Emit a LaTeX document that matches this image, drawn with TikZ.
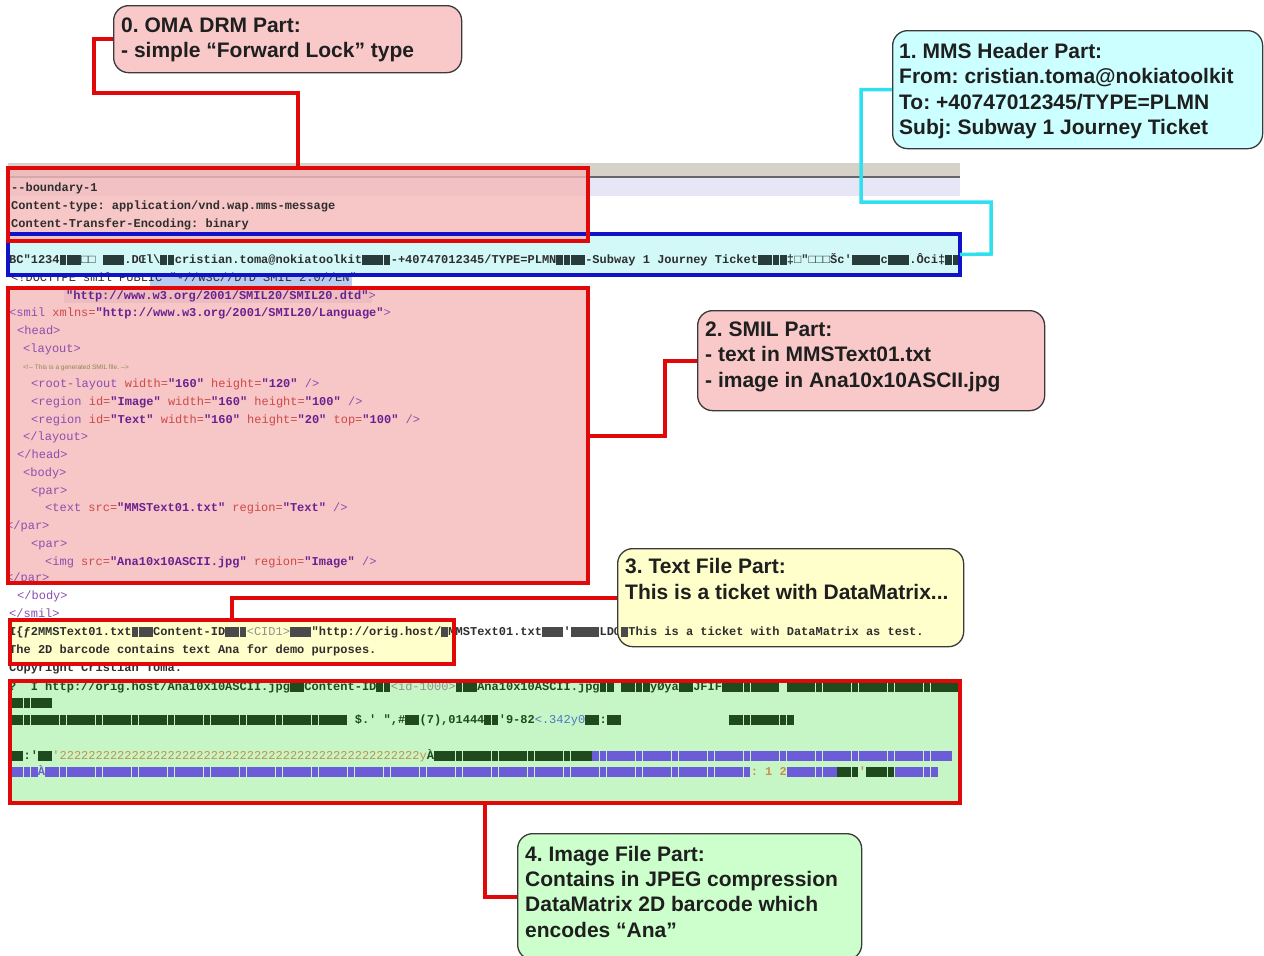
\documentclass[tikz,border=0pt]{standalone}
\usepackage{fontspec}
\setmainfont{Liberation Sans}
\setmonofont{Liberation Mono}
\frenchspacing
\definecolor{boxred}{HTML}{E00808}
\definecolor{boxblue}{HTML}{1212C8}
\definecolor{linecyan}{HTML}{30E0F0}
\definecolor{pinkf}{HTML}{F5B8B8}
\definecolor{cyanbox}{HTML}{D2F8F8}
\definecolor{yelbox}{HTML}{FFFFCC}
\definecolor{greenbox}{HTML}{C6F5C6}
\definecolor{cpink}{HTML}{F9C9C9}
\definecolor{ccyan}{HTML}{CCFFFF}
\definecolor{cyellow}{HTML}{FFFFCC}
\definecolor{cgreen}{HTML}{CCFFCC}
\definecolor{calloutdraw}{HTML}{3A3A3A}
\definecolor{codegray}{HTML}{2E2E2E}
\definecolor{tagc}{HTML}{8A4FB0}
\definecolor{attc}{HTML}{D04848}
\definecolor{valc}{HTML}{6A2090}
\definecolor{commc}{HTML}{8A8A50}
\definecolor{blkc}{HTML}{283C3C}
\definecolor{dblk}{HTML}{4A4A4A}
\definecolor{gblk}{HTML}{1E4A1E}
\definecolor{pblk}{HTML}{6C5CD8}
\definecolor{tanc}{HTML}{C8904A}
\definecolor{bluec}{HTML}{4A78C8}
\definecolor{lgray}{HTML}{909090}
\definecolor{hlblue}{HTML}{B8CCF0}
\definecolor{hlgray}{HTML}{C8CCE8}
\definecolor{barc}{HTML}{D6D2CA}
\definecolor{lavc}{HTML}{E6E6F6}
\newcommand\bkk[1][blkc]{\textcolor{#1}{\rule[-2pt]{6.8pt}{10pt}}\kern0.4pt}
\newcommand\bkn[2][blkc]{\foreach\ii in {1,...,#2}{\bkk[#1]}}
\newcommand\xtag[1]{{\mdseries\color{tagc}#1}}
\newcommand\xatt[1]{{\mdseries\color{attc}#1}}
\newcommand\xval[1]{{\bfseries\color{valc}#1}}
\begin{document}
\begin{tikzpicture}[x=1pt,y=-1pt,
  partfill/.style={anchor=north west, inner sep=0pt, outer sep=0pt},
  code/.style={anchor=base west, inner sep=0pt, font=\ttfamily\bfseries\fontsize{12}{12}\selectfont, text=codegray},
  callout/.style={draw=calloutdraw, line width=1.3pt, rounded corners=15pt, anchor=north west, inner sep=0pt},
  ctext/.style={anchor=north west, align=left, inner sep=0pt, font=\bfseries\fontsize{21}{25.3}\selectfont, text=black!88},
  redconn/.style={draw=boxred, line width=4pt},
  cyanconn/.style={draw=linecyan, line width=3.5pt},
  redframe/.style={draw=boxred, line width=4pt},
  blueframe/.style={draw=boxblue, line width=4pt}]
\useasboundingbox (0,0) rectangle (1264,956);
\fill[white] (0,0) rectangle (1264,956);
% screenshot bands
\fill[barc] (8,163) rectangle (960,176);
\draw[black!60, line width=1.2pt] (8,177) -- (960,177);
\fill[lavc] (8,178) rectangle (960,196);
\fill[hlblue] (150,273) rectangle (352,286);
\fill[hlgray] (64,290) rectangle (372,303);
% part boxes (fills)
\node[partfill, fill=cyanbox, minimum width=952pt, minimum height=41pt] (b1) at (8,234) {};
\node[partfill, fill=pinkf, fill opacity=0.8, minimum width=580pt, minimum height=73pt] (b0) at (8,168) {};
\node[partfill, fill=pinkf, fill opacity=0.8, minimum width=580pt, minimum height=295pt] (b2) at (8,288) {};
\node[partfill, fill=yelbox, minimum width=444pt, minimum height=44pt] (b3) at (10,620) {};
\node[partfill, fill=greenbox, minimum width=950pt, minimum height=122pt] (b4) at (10,681) {};
% screenshot text
\begin{scope}
\clip (8,150) rectangle (960,806);
\node[code] (r01) at (11,191) {-{}-boundary-1};
\node[code] (r02) at (11,209) {Content-type: application/vnd.wap.mms-message};
\node[code] (r03) at (11,227) {Content-Transfer-Encoding: binary};
\node[code] (r04) at (9,263) {BC"1234\bkn{3}□□\ \bkn{3}.DŒl\textbackslash\bkn{2}cristian.toma@nokiatoolkit\bkn{4}-+40747012345/TYPE=PLMN\bkn{4}-Subway 1 Journey Ticket\bkn{4}‡□"□□□Šc'\bkn{4}c\bkn{3}.Ôci‡\bkn{2}};
\node[code, font=\ttfamily\fontsize{12}{12}\selectfont] (r05) at (11,281) {<!DOCTYPE smil PUBLIC "-//W3C//DTD SMIL 2.0//EN"};
\node[code] (r06) at (66,299) {\xval{"http://www.w3.org/2001/SMIL20/SMIL20.dtd"}\xtag{>}};
\node[code] (r07) at (9,316) {\xtag{<smil} \xatt{xmlns=}\xval{"http://www.w3.org/2001/SMIL20/Language"}\xtag{>}};
\node[code] (r08) at (17,334) {\xtag{<head>}};
\node[code] (r09) at (23,352) {\xtag{<layout>}};
\node[anchor=base west, inner sep=0pt, font=\fontsize{6.5}{7}\selectfont, text=commc] (r10) at (23,369) {<!-{}- This is a generated SMIL file. -{}->};
\node[code] (r11) at (31,387) {\xtag{<root-layout} \xatt{width=}\xval{"160"} \xatt{height=}\xval{"120"} \xtag{/>}};
\node[code] (r12) at (31,405) {\xtag{<region} \xatt{id=}\xval{"Image"} \xatt{width=}\xval{"160"} \xatt{height=}\xval{"100"} \xtag{/>}};
\node[code] (r13) at (31,423) {\xtag{<region} \xatt{id=}\xval{"Text"} \xatt{width=}\xval{"160"} \xatt{height=}\xval{"20"} \xatt{top=}\xval{"100"} \xtag{/>}};
\node[code] (r14) at (23,440) {\xtag{</layout>}};
\node[code] (r15) at (17,458) {\xtag{</head>}};
\node[code] (r16) at (23,476) {\xtag{<body>}};
\node[code] (r17) at (31,494) {\xtag{<par>}};
\node[code] (r18) at (45,511) {\xtag{<text} \xatt{src=}\xval{"MMSText01.txt"} \xatt{region=}\xval{"Text"} \xtag{/>}};
\node[code] (r19) at (6,529) {\xtag{</par>}};
\node[code] (r20) at (31,547) {\xtag{<par>}};
\node[code] (r21) at (45,565) {\xtag{<img} \xatt{src=}\xval{"Ana10x10ASCII.jpg"} \xatt{region=}\xval{"Image"} \xtag{/>}};
\node[code] (r22) at (6,581) {\xtag{</par>}};
\node[code] (r23) at (17,599) {\xtag{</body>}};
\node[code] (r24) at (9,617) {\xtag{</smil>}};
\node[code] (r25) at (9,635) {I\{ƒ2MMSText01.txt\bkn[dblk]{3}Content-ID\bkn[dblk]{3}{\mdseries\color{lgray}<CID1>}\bkn[dblk]{3}"http://orig.host/\bkk[dblk]MMSText01.txt\bkn[dblk]{3}'\bkn[dblk]{4}LDŒ};
\node[code] (r26) at (9,653) {The 2D barcode contains text Ana for demo purposes.};
\node[code] (r27) at (9,671) {Copyright Cristian Toma.};
\node[code, text=gblk] (r28) at (9,690) {?~~I http://orig.host/Ana10x10ASCII.jpg\bkn[gblk]{2}Content-ID\bkn[gblk]{2}{\mdseries\color{lgray}<id-1000>}\bkn[gblk]{3}Ana10x10ASCII.jpg\bkn[gblk]{2}\ \bkn[gblk]{4}ÿØÿà\bkn[gblk]{2}JFIF\bkn[gblk]{8}\ \bkn[gblk]{24}};
\node[code] (r29) at (9,706) {\bkn[gblk]{6}};
\node[code, text=gblk] (r30) at (9,723) {\bkn[gblk]{47}\ \$.' ",\#\bkn[gblk]{2}(7),01444\bkn[gblk]{2}'9-82{\mdseries\color{bluec}<.342y0}\bkn[gblk]{2}:\bkn[gblk]{2}\hspace{108pt}\bkn[gblk]{9}};
\node[code] (r31) at (9,759) {\bkn[gblk]{2}{\color{gblk}:'}\bkn[gblk]{2}{\color{tanc}\mdseries'22222222222222222222222222222222222222222222222222y}{\color{gblk}À}\bkn[gblk]{22}\bkn[pblk]{50}};
\node[code] (r32) at (9,775) {\bkn[pblk]{4}{\color{pblk}À}\bkn[pblk]{98}{\color{tanc}:~1~2}\bkn[pblk]{7}\bkn[gblk]{3}{\color{tanc}'}\bkn[gblk]{4}\bkn[pblk]{6}};
\end{scope}
% part frames
\draw[blueframe] (b1.north west) rectangle (b1.south east);
\draw[redframe] (b0.north west) rectangle (b0.south east);
\draw[redframe] (b2.north west) rectangle (b2.south east);
\draw[redframe] (b3.north west) rectangle (b3.south east);
\draw[redframe] (b4.north west) rectangle (b4.south east);
% callouts
\node[callout, fill=cpink, minimum width=348pt, minimum height=67pt] (c0) at (113,5) {};
\node[callout, fill=ccyan, minimum width=370pt, minimum height=118pt] (c1) at (892,30) {};
\node[callout, fill=cpink, minimum width=347pt, minimum height=100pt] (c2) at (697,310) {};
\node[callout, fill=cyellow, minimum width=346pt, minimum height=98pt] (c3) at (617,548) {};
\node[callout, fill=cgreen, minimum width=344pt, minimum height=126pt] (c4) at (517,833) {};
% connectors
\coordinate (k0) at (94,93);
\coordinate (k1a) at (861,202);
\coordinate (k1b) at (991,254);
\coordinate (k2) at (665,435.5);
\draw[redconn] (c0.west) -| (k0) -| (b0.north);
\draw[cyanconn] (c1.west) -| (k1a) -| (k1b) -- (b1.east);
\draw[redconn] (c2.west) -| (k2) -- (b2.east);
\draw[redconn] (c3.west) -| (b3.north);
\draw[redconn] (c4.west) -| (b4.south);
% callout texts
\node[ctext] (t0) at (121,17.7) {0. OMA DRM Part:\\- simple “Forward Lock” type};
\node[ctext] (t1) at (899,43.2) {1. MMS Header Part:\\From: cristian.toma@nokiatoolkit\\To: +40747012345/TYPE=PLMN\\Subj: Subway 1 Journey Ticket};
\node[ctext] (t2) at (705,321.7) {2. SMIL Part:\\- text in MMSText01.txt\\- image in Ana10x10ASCII.jpg};
\node[ctext, font=\bfseries\fontsize{21}{26}\selectfont] (t3) at (625,558.2) {3. Text File Part:\\This is a ticket with DataMatrix...};
\node[ctext] (t4) at (525,845.7) {4. Image File Part:\\Contains in JPEG compression\\DataMatrix 2D barcode which\\encodes “Ana”};
\node[code] (r25b) at (621,635) {\bkk[dblk]This is a ticket with DataMatrix as test.};
\end{tikzpicture}
\end{document}
